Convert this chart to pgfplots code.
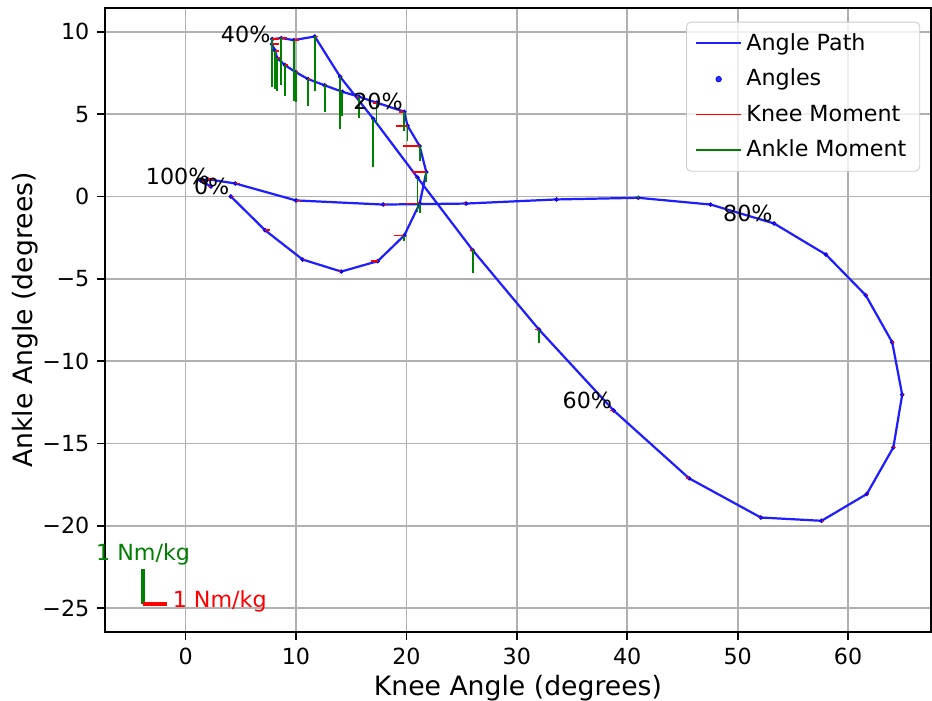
\documentclass[border=0pt]{standalone}
\usepackage{fontspec}
\setmainfont{DejaVu Sans}
\usepackage{pgfplots}
\pgfplotsset{compat=1.18}
\usepackage{pgfplotstable}

\definecolor{mplgreen}{RGB}{0,128,0}
\definecolor{gridgray}{RGB}{176,176,176}
\definecolor{legframe}{RGB}{204,204,204}
\definecolor{pathblue}{RGB}{30,30,255}

% gait cycle, 2% steps: knee angle vs ankle angle
\pgfplotstableread{
x y
4.1 0.0
7.2 -2.05
10.6 -3.83
14.1 -4.56
17.4 -3.93
19.8 -2.37
21.2 -0.43
21.8 1.48
21.2 3.06
20.1 4.3
19.8 5.15
17.3 5.7
15.7 6.06
14.2 6.36
12.6 6.75
11.1 7.13
10.0 7.54
9.0 7.98
8.3 8.4
8.1 8.86
7.82 9.25
7.85 9.56
8.67 9.62
9.81 9.5
11.7 9.72
14.0 7.27
17.0 4.72
21.0 1.15
26.0 -3.26
32.0 -8.08
38.77 -13.0
45.6 -17.12
52.1 -19.5
57.6 -19.7
61.7 -18.07
64.1 -15.24
64.9 -12.04
64.0 -8.86
61.6 -6.0
58.0 -3.53
53.3 -1.64
47.55 -0.49
41.0 -0.08
33.6 -0.18
25.4 -0.43
17.9 -0.49
10.0 -0.24
4.5 0.79
2.0 1.05
1.4 0.95
2.3 0.6
}\gait

% knee moment segments (start, tip), horizontal
\pgfplotstableread{
x y
4.1 0.0
4.4 0.0
nan nan
7.2 -2.05
7.65 -2.05
nan nan
10.6 -3.83
10.8 -3.83
nan nan
14.1 -4.56
13.8 -4.56
nan nan
17.4 -3.93
16.8 -3.93
nan nan
19.8 -2.37
18.9 -2.37
nan nan
21.2 -0.43
20.0 -0.43
nan nan
21.8 1.48
20.5 1.48
nan nan
21.2 3.06
19.7 3.06
nan nan
20.1 4.3
19.1 4.3
nan nan
19.8 5.15
19.3 5.15
nan nan
17.3 5.7
17.0 5.7
nan nan
15.7 6.06
15.5 6.06
nan nan
14.2 6.36
14.1 6.36
nan nan
12.6 6.75
12.7 6.75
nan nan
11.1 7.13
11.25 7.13
nan nan
10.0 7.54
10.2 7.54
nan nan
9.0 7.98
9.25 7.98
nan nan
8.3 8.4
8.6 8.4
nan nan
8.1 8.86
8.5 8.86
nan nan
7.82 9.25
8.42 9.25
nan nan
7.85 9.56
8.45 9.56
nan nan
8.67 9.62
9.17 9.62
nan nan
9.81 9.5
10.26 9.5
nan nan
11.7 9.72
12.0 9.72
nan nan
14.0 7.27
14.1 7.27
nan nan
21.0 1.15
20.9 1.15
nan nan
26.0 -3.26
25.8 -3.26
nan nan
32.0 -8.08
31.65 -8.08
nan nan
38.77 -13.0
38.42 -13.0
nan nan
45.6 -17.12
45.35 -17.12
nan nan
52.1 -19.5
51.95 -19.5
nan nan
57.6 -19.7
57.7 -19.7
nan nan
61.7 -18.07
61.8 -18.07
nan nan
64.1 -15.24
64.25 -15.24
nan nan
64.9 -12.04
65.0 -12.04
nan nan
64.0 -8.86
64.15 -8.86
nan nan
61.6 -6.0
61.7 -6.0
nan nan
58.0 -3.53
58.1 -3.53
nan nan
53.3 -1.64
53.4 -1.64
nan nan
47.55 -0.49
47.7 -0.49
nan nan
41.0 -0.08
41.1 -0.08
nan nan
33.6 -0.18
33.75 -0.18
nan nan
25.4 -0.43
25.2 -0.43
nan nan
17.9 -0.49
18.25 -0.49
nan nan
10.0 -0.24
10.45 -0.24
nan nan
4.5 0.79
4.9 0.79
nan nan
2.0 1.05
2.5 1.05
nan nan
1.4 0.95
1.8 0.95
nan nan
2.3 0.6
2.0 0.6
}\knee

% ankle moment segments (start, tip), vertical
\pgfplotstableread{
x y
19.8 -2.37
19.8 -2.72
nan nan
21.2 -0.43
21.2 -0.98
nan nan
21.8 1.48
21.8 0.88
nan nan
21.2 3.06
21.2 2.16
nan nan
20.1 4.3
20.1 3.4
nan nan
19.8 5.15
19.8 3.95
nan nan
17.3 5.7
17.3 4.35
nan nan
15.7 6.06
15.7 4.76
nan nan
14.2 6.36
14.2 4.86
nan nan
12.6 6.75
12.6 5.15
nan nan
11.1 7.13
11.1 5.48
nan nan
10.0 7.54
10.0 5.74
nan nan
9.0 7.98
9.0 6.08
nan nan
8.3 8.4
8.3 6.4
nan nan
8.1 8.86
8.1 6.51
nan nan
7.82 9.25
7.82 6.65
nan nan
7.85 9.56
7.85 6.66
nan nan
8.67 9.62
8.67 6.77
nan nan
9.81 9.5
9.81 5.8
nan nan
11.7 9.72
11.7 6.42
nan nan
14.0 7.27
14.0 4.07
nan nan
17.0 4.72
17.0 1.82
nan nan
21.0 1.15
21.0 -0.95
nan nan
26.0 -3.26
26.0 -4.66
nan nan
32.0 -8.08
32.0 -8.88
nan nan
41.0 -0.08
41.0 0.02
}\ankle

\begin{document}
\begin{tikzpicture}
\begin{axis}[
    scale only axis,
    width=371.7pt, height=280.8pt,
    xmin=-7.3, xmax=67.5,
    ymin=-26.45, ymax=11.45,
    xtick={0,10,...,60},
    ytick={-25,-20,...,10},
    yticklabels={−25,−20,−15,−10,−5,0,5,10},
    grid=major,
    grid style={gridgray, line width=0.8pt},
    axis line style={line width=0.8pt},
    tick align=outside,
    tick pos=left,
    major tick length=3.5pt,
    tick style={black, line width=0.8pt},
    tick label style={font=\fontsize{10}{12}\selectfont},
    /pgf/number format/assume math mode=true,
    xlabel={Knee Angle (degrees)},
    ylabel={Ankle Angle (degrees)},
    every axis x label/.style={at={([yshift=-25.5pt]rel axis cs:0.5,0)}, anchor=center,
        font=\fontsize{12}{14}\selectfont},
    every axis y label/.style={at={([xshift=-36pt]rel axis cs:0,0.5)}, anchor=center, rotate=90,
        font=\fontsize{12}{14}\selectfont},
    unbounded coords=jump,
    clip mode=individual,
    legend cell align=left,
    legend style={at={(0.987,0.978)}, anchor=north east,
        draw=legframe, rounded corners=2pt, fill=white, fill opacity=0.8,
        text opacity=1, font=\fontsize{10}{12}\selectfont,
        row sep=3pt, inner xsep=4pt, inner ysep=3pt},
]
\addplot[pathblue, line width=1pt,
    legend image code/.code={\draw[pathblue, line width=1pt] (0pt,0pt) -- (20pt,0pt);}]
    table[x=x, y=y] {\gait};
\addlegendentry{Angle Path}
\addplot[blue, only marks, mark=*, mark size=0.8pt,
    legend image code/.code={\fill[blue] (10pt,0pt) circle (1.2pt);}]
    table[x=x, y=y] {\gait};
\addlegendentry{Angles}
\addplot[red, line width=0.8pt,
    legend image code/.code={\draw[red, line width=0.8pt] (0pt,0pt) -- (20pt,0pt);}]
    table[x=x, y=y] {\knee};
\addlegendentry{Knee Moment}
\addplot[mplgreen, line width=0.8pt,
    legend image code/.code={\draw[mplgreen, line width=0.8pt] (0pt,0pt) -- (20pt,0pt);}]
    table[x=x, y=y] {\ankle};
\addlegendentry{Ankle Moment}

% scale bars
\addplot[forget plot, mplgreen, line width=1.8pt] coordinates {(-3.9,-24.74) (-3.9,-22.64)};
\addplot[forget plot, red, line width=1.8pt] coordinates {(-3.9,-24.74) (-1.64,-24.74)};
\node[mplgreen, font=\fontsize{10}{12}\selectfont] at (axis cs:-3.85,-21.75) {1 Nm/kg};
\node[red, anchor=west, inner sep=0pt, font=\fontsize{10}{12}\selectfont] at (axis cs:-1.2,-24.6) {1 Nm/kg};

% cycle percentage labels
\begin{scope}[every node/.style={anchor=south east, inner sep=0.5pt, font=\fontsize{10}{12}\selectfont}]
\node at (axis cs:4.1,0.0) {0\%};
\node at (axis cs:19.8,5.15) {20\%};
\node at (axis cs:7.82,9.25) {40\%};
\node at (axis cs:38.77,-13.0) {60\%};
\node at (axis cs:53.3,-1.64) {80\%};
\node at (axis cs:2.3,0.6) {100\%};
\end{scope}

\coordinate (bl) at (rel axis cs:0,0);
\coordinate (tr) at (rel axis cs:1,1);
\end{axis}
\pgfresetboundingbox
\path[use as bounding box] ([xshift=-47.25pt,yshift=-31pt]bl) rectangle ([xshift=0.5pt,yshift=3.6pt]tr);
\end{tikzpicture}
\end{document}
